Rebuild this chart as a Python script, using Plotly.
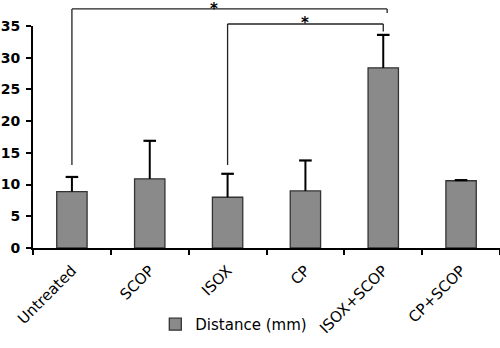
import plotly.graph_objects as go

categories = ["Untreated", "SCOP", "ISOX", "CP", "ISOX+SCOP", "CP+SCOP"]
distance = [8.9, 10.9, 8.0, 9.0, 28.4, 10.6]
errors = [2.3, 6.0, 3.7, 4.8, 5.2, 0.1]
y_ticks = [0, 5, 10, 15, 20, 25, 30, 35]

# significance comparisons (index pairs) and star positions
comparisons = [(0, 4), (2, 4)]
star_x = [1.83, 3.0]

err_tops = [v + e for v, e in zip(distance, errors)]

fig = go.Figure()
fig.add_trace(go.Bar(
    x=categories, y=distance, name="Distance (mm)",
    marker=dict(color="#8a8a8a", line=dict(color="#333333", width=1.3)),
    width=0.39,
))
# upward-only error bars: vertical stem + top cap
fig.add_trace(go.Scatter(
    x=categories, y=err_tops, mode="markers", showlegend=False, hoverinfo="skip",
    marker=dict(symbol="line-ew-open", size=9, color="black",
                line=dict(color="black", width=2.2)),
    error_y=dict(type="data", array=[0]*len(errors), arrayminus=errors,
                 symmetric=False, color="black", thickness=2, width=0),
))

# brackets (paper y levels)
bracket_levels = [1.077, 1.009]
leg_bottoms_left = [0.374, 0.374]
leg_bottoms_right = [1.058, 0.975]
right_offsets = [0.05, 0.0]
star_y = [1.126, 1.063]
for (a, b), lvl, lb, rb, ro, sx, sy in zip(comparisons, bracket_levels, leg_bottoms_left,
                                           leg_bottoms_right, right_offsets, star_x, star_y):
    ln = dict(color="#222", width=1.3)
    fig.add_shape(type="line", xref="x", yref="paper", x0=a, x1=a, y0=lb, y1=lvl, line=ln)
    fig.add_shape(type="line", xref="x", yref="paper", x0=a, x1=b + ro, y0=lvl, y1=lvl, line=ln)
    fig.add_shape(type="line", xref="x", yref="paper", x0=b + ro, x1=b + ro, y0=lvl, y1=rb, line=ln)
    fig.add_annotation(x=sx, xref="x", yref="paper", y=sy,
                       text="<b>*</b>", showarrow=False, yanchor="top",
                       font=dict(size=15, color="#000000", family="DejaVu Sans"))

fig.update_layout(
    width=500, height=348,
    margin=dict(l=33, r=0, t=26, b=100),
    paper_bgcolor="white", plot_bgcolor="white",
    font=dict(family="DejaVu Sans", size=13, color="black"),
    showlegend=True,
    legend=dict(orientation="h", x=0.43, xanchor="center", y=-0.27, yanchor="top",
                font=dict(size=15), itemwidth=30),
    xaxis=dict(
        showline=True, linecolor="black", linewidth=2,
        ticks="outside", tickson="boundaries", ticklen=5, tickwidth=2, tickcolor="black",
        tickangle=-45, tickfont=dict(size=15), ticklabelstandoff=6, showgrid=False,
    ),
    yaxis=dict(
        range=[0, 35], tickvals=y_ticks,
        showline=True, linecolor="black", linewidth=2,
        ticks="outside", ticklen=5, tickwidth=2, tickcolor="black",
        ticklabelstandoff=3,
        tickfont=dict(size=14, family="DejaVu Sans", weight="bold"),
        showgrid=False, zeroline=False,
    ),
)

fig.write_html("out.html")
